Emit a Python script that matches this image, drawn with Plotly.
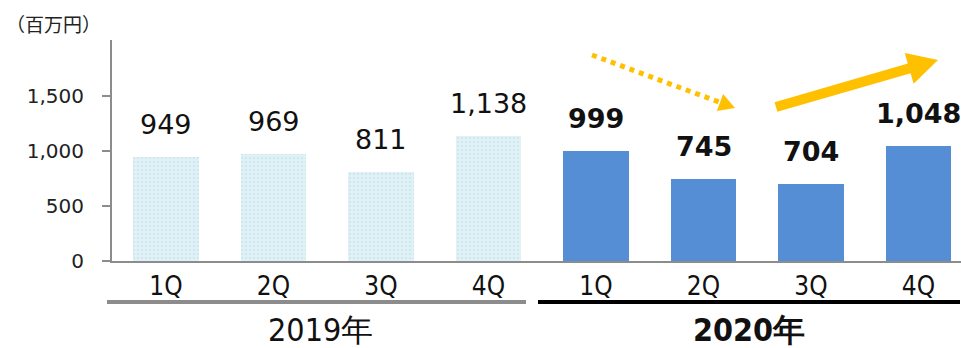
import plotly.graph_objects as go

# Quarterly sales (million yen)
quarters = ["1Q", "2Q", "3Q", "4Q"]
years = ["2019年", "2020年"]
sales_2019 = [949, 969, 811, 1138]
sales_2020 = [999, 745, 704, 1048]
y_ticks = [0, 500, 1000, 1500]
unit_label = "（百万円）"

W, H = 961, 348
ML, MR, MT, MB = 112, 0, 40, 87
PW, PH = W - ML - MR, H - MT - MB
Y_MAX = 2010
STEP_PX = 107.5          # pixel distance between category centres
FIRST_PX = 54            # first category centre from left edge of plot
x_lo = -FIRST_PX / STEP_PX
x_hi = x_lo + PW / STEP_PX

FONT = "DejaVu Sans, Verdana, sans-serif"
NARROW = "DejaVu Sans Condensed, Liberation Sans Narrow, Arial Narrow, sans-serif"
ARROW_C = "#FFC000"

x19 = list(range(4))
x20 = list(range(4, 8))

fig = go.Figure()
fig.add_trace(go.Bar(
    x=x19, y=sales_2019, width=0.61,
    marker=dict(color="#DDEFF5", line=dict(width=0),
                pattern=dict(shape=".", fgcolor="#B9DDE8", bgcolor="#E2F1F6",
                             size=4, solidity=0.3, fillmode="overlay")),
    showlegend=False, hoverinfo="skip"))
fig.add_trace(go.Bar(
    x=x20, y=sales_2020, width=0.61,
    marker=dict(color="#558ED5", line=dict(width=0)),
    showlegend=False, hoverinfo="skip"))

annotations = []
for xi, v in zip(x19, sales_2019):
    annotations.append(dict(x=xi, y=v, xref="x", yref="y", text=f"{v:,}",
                            showarrow=False, yanchor="bottom", yshift=15,
                            font=dict(family=FONT, size=27, color="#111111")))
for xi, v in zip(x20, sales_2020):
    annotations.append(dict(x=xi, y=v, xref="x", yref="y", text=f"<b>{v:,}</b>",
                            showarrow=False, yanchor="bottom", yshift=15,
                            font=dict(family=FONT, size=27, color="#111111")))


def to_paper(px, py):
    return ((px - ML) / PW, (MT + PH - py) / PH)


# year labels below the quarter ticks
for text, cx, bold in [(years[0], 320, False), (years[1], 749, True)]:
    px_, py_ = to_paper(cx, 330)
    annotations.append(dict(x=px_, y=py_, xref="paper", yref="paper",
                            text=f"<b>{text}</b>" if bold else text,
                            showarrow=False, xanchor="center", yanchor="middle",
                            font=dict(family=NARROW, size=32, color="#111111")))

# unit label
ux, uy = to_paper(4, 23)
annotations.append(dict(x=ux, y=uy, xref="paper", yref="paper", text=unit_label,
                        showarrow=False, xanchor="left", yanchor="middle",
                        font=dict(family="Noto Sans CJK JP, sans-serif", size=19,
                                  color="#222222")))

shapes = []


def hline(x0, x1, y, color, width):
    a = to_paper(x0, y)
    b = to_paper(x1, y)
    shapes.append(dict(type="line", xref="paper", yref="paper",
                       x0=a[0], y0=a[1], x1=b[0], y1=b[1],
                       line=dict(color=color, width=width)))


hline(107, 526, 302, "#8C8C8C", 4)
hline(538, 960, 302, "#000000", 4)


def arrow(tail, tip, width, head_len, head_half, dash="solid"):
    dx, dy = tip[0] - tail[0], tip[1] - tail[1]
    ln = (dx * dx + dy * dy) ** 0.5
    ux_, uy_ = dx / ln, dy / ln
    nx, ny = -uy_, ux_
    base = (tip[0] - ux_ * head_len, tip[1] - uy_ * head_len)
    a = to_paper(*tail)
    b = to_paper(base[0] + ux_ * 1, base[1] + uy_ * 1)
    shapes.append(dict(type="line", xref="paper", yref="paper",
                       x0=a[0], y0=a[1], x1=b[0], y1=b[1],
                       line=dict(color=ARROW_C, width=width, dash=dash)))
    p1 = to_paper(tip[0], tip[1])
    p2 = to_paper(base[0] + nx * head_half, base[1] + ny * head_half)
    p3 = to_paper(base[0] - nx * head_half, base[1] - ny * head_half)
    path = f"M {p1[0]},{p1[1]} L {p2[0]},{p2[1]} L {p3[0]},{p3[1]} Z"
    shapes.append(dict(type="path", xref="paper", yref="paper", path=path,
                       fillcolor=ARROW_C, line=dict(width=0)))


arrow((592, 55), (735, 108), 5, 16, 9, dash="5px,5px")
arrow((776, 107), (938, 60), 10, 30, 16)

fig.update_layout(
    width=W, height=H,
    margin=dict(l=ML, r=MR, t=MT, b=MB, pad=0),
    paper_bgcolor="white", plot_bgcolor="white",
    bargap=0, barmode="overlay",
    annotations=annotations, shapes=shapes,
    xaxis=dict(range=[x_lo, x_hi], tickvals=x19 + x20, ticktext=quarters * 2,
               showgrid=False, zeroline=False, showline=True,
               linecolor="#8C8C8C", linewidth=2,
               ticks="outside", ticklen=1, tickcolor="rgba(0,0,0,0)",
               tickfont=dict(family=NARROW, size=26, color="#111111")),
    yaxis=dict(range=[0, Y_MAX], tickvals=y_ticks,
               ticktext=[f"{t:,}" for t in y_ticks],
               showgrid=False, zeroline=False, showline=True,
               linecolor="#8C8C8C", linewidth=2,
               ticks="outside", ticklen=8, tickwidth=2, tickcolor="#8C8C8C",
               ticklabelstandoff=14,
               tickfont=dict(family=FONT, size=20, color="#222222")),
)

fig.write_html("out.html")
